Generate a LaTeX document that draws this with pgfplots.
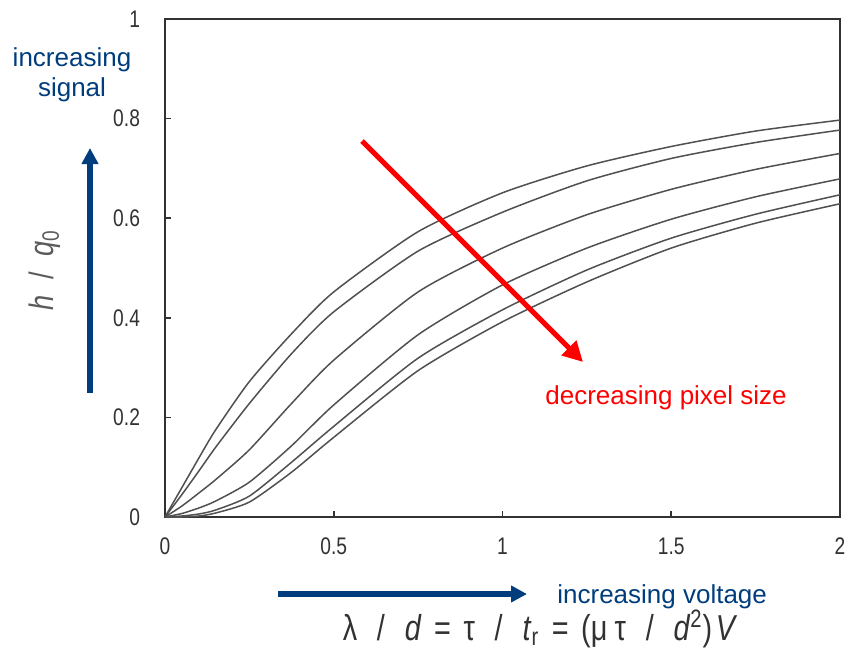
\documentclass[border=0pt]{standalone}
\usepackage{pgfplots}
\pgfplotsset{compat=1.18}
\usepackage{pgfplotstable}
\usepackage{fontspec}
\setmainfont{Liberation Sans}
\newfontfamily\narrowfont[FakeStretch=0.8]{Liberation Sans}
\usetikzlibrary{arrows.meta}
\definecolor{navy}{RGB}{0,61,125}
\definecolor{curve}{RGB}{80,80,80}
\definecolor{tickc}{RGB}{50,50,50}
\pgfplotstableread{
x     a     b     c     d     e     f
0     0     0     0     0     0     0
0.05  0.059 0.045 0.022 0.007 0.002 0.000
0.1   0.118 0.092 0.048 0.018 0.006 0.002
0.15  0.175 0.140 0.075 0.032 0.014 0.008
0.25  0.272 0.228 0.135 0.070 0.042 0.030
0.375 0.368 0.328 0.228 0.143 0.110 0.090
0.5   0.452 0.412 0.315 0.225 0.182 0.160
0.75  0.573 0.534 0.452 0.366 0.319 0.294
1.0   0.651 0.612 0.540 0.466 0.416 0.392
1.25  0.705 0.675 0.607 0.540 0.496 0.472
1.5   0.744 0.720 0.658 0.598 0.560 0.540
1.75  0.775 0.752 0.698 0.643 0.608 0.590
2.0   0.797 0.777 0.730 0.679 0.647 0.629
}\data
\begin{document}
\begin{tikzpicture}
\begin{axis}[
  scale only axis,
  width=337.5pt, height=249pt,
  xmin=0, xmax=2, ymin=0, ymax=1,
  xtick={0,0.5,1,1.5,2},
  ytick={0,0.2,0.4,0.6,0.8,1},
  tick pos=left,
  tick align=inside,
  major tick length=3pt,
  axis line style={tickc, line width=0.9pt},
  every tick/.style={tickc, line width=0.8pt},
  /pgf/number format/assume math mode=true,
  ticklabel style={font=\narrowfont\fontsize{12}{14}\selectfont, text=tickc},
  yticklabel style={xshift=-9pt},
  xticklabel style={yshift=-7pt},
  clip=false,
]
\foreach \c in {a,b,c,d,e,f}{
  \addplot[curve, line width=0.75pt, smooth, tension=0.4] table[x=x, y=\c] {\data};
}
\end{axis}
\begin{scope}[shift={(current axis.south west)}, x=0.5pt, y=0.5pt]
  % red arrow
  \draw[red, line width=2.6pt, -{Triangle[length=10pt,width=10pt]}] (197,376) -- (418,155);
  \node[anchor=base west, text=red, font=\fontsize{13}{15}\selectfont, inner sep=0] at (380,113) {decreasing pixel size};
  % blue vertical arrow
  \draw[navy, line width=3pt, -{Triangle[length=8pt,width=8pt]}] (-75,124) -- (-75,369);
  \node[anchor=base, text=navy, font=\fontsize{13}{15}\selectfont, inner sep=0] at (-93,451) {increasing};
  \node[anchor=base, text=navy, font=\fontsize{13}{15}\selectfont, inner sep=0] at (-93,421) {signal};
  % blue horizontal arrow
  \draw[navy, line width=2.8pt, -{Triangle[length=8pt,width=8pt]}] (113,-77) -- (362,-77);
  \node[anchor=base west, text=navy, font=\fontsize{13}{15}\selectfont, inner sep=0] at (392,-86) {increasing voltage};
  % axis labels
  \node[anchor=base, text=tickc, font=\narrowfont\fontsize{18}{21}\selectfont, inner sep=0] at (375,-123)
    {λ\hspace{0.55em}/\hspace{0.55em}\textit{d}\hspace{0.35em}=\hspace{0.35em}τ\hspace{0.55em}/\hspace{0.55em}\textit{t}\textsubscript{r}\hspace{0.35em}=\hspace{0.35em}(μ\hspace{0.2em}τ\hspace{0.55em}/\hspace{0.55em}\textit{d}\textsuperscript{2})\hspace{0.1em}\textit{V}};
  \node[rotate=90, text=tickc!80!white, font=\narrowfont\fontsize{17}{19}\selectfont, inner sep=0] at (-120,247)
    {\textit{h}\hspace{0.45em}/\hspace{0.45em}\textit{q}\textsubscript{0}};
  \pgfresetboundingbox
  \path[use as bounding box] (-165,-133) rectangle (683,517);
\end{scope}
\end{tikzpicture}
\end{document}
